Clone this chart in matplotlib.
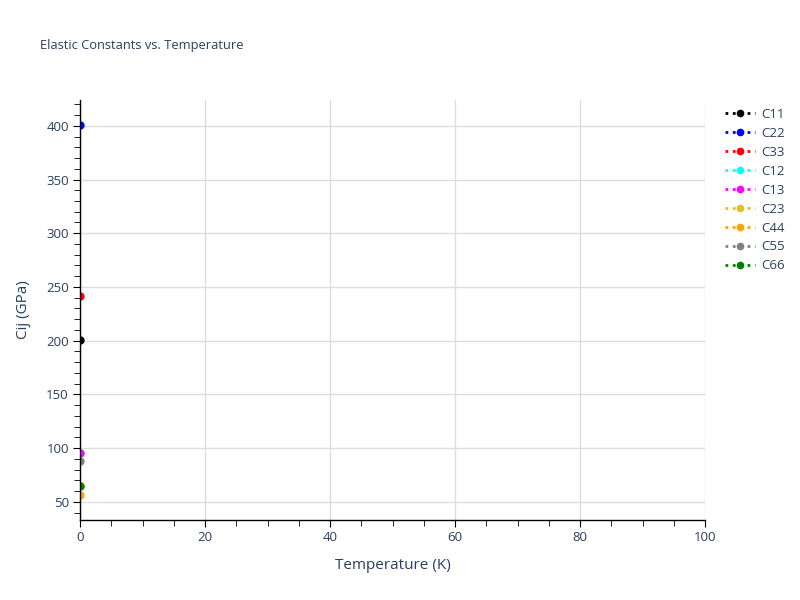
import matplotlib.pyplot as plt
from matplotlib.ticker import MultipleLocator

plt.rcParams['font.family'] = ['Open Sans', 'DejaVu Sans']

# Data
temperature = [0]
names = ["C11", "C22", "C33", "C12", "C13", "C23", "C44", "C55", "C66"]
values = [201, 401, 242, 95, 95, 65, 56, 88, 65]
colors = ["black", "blue", "red", "cyan", "magenta", "#e5bf2b",
          "orange", "gray", "green"]

text_color = "#2a3f5f"

fig = plt.figure(figsize=(8, 6), dpi=100)
ax = fig.add_axes([0.1, 0.1333, 0.78125, 0.7])

for name, val, col in zip(names, values, colors):
    ax.plot(temperature, [val], linestyle=":", color=col, marker="o",
            markersize=5, linewidth=2, label=name)

ax.set_xlim(0, 100)
ax.set_ylim(33, 424)
ax.xaxis.set_major_locator(MultipleLocator(20))
ax.xaxis.set_minor_locator(MultipleLocator(5))
ax.yaxis.set_major_locator(MultipleLocator(50))
ax.yaxis.set_minor_locator(MultipleLocator(10))

ax.grid(True, which="major", color="#dddddd", linewidth=1)
ax.set_axisbelow(True)
for s in ["top", "right"]:
    ax.spines[s].set_visible(False)
for s in ["left", "bottom"]:
    ax.spines[s].set_color("black")
    ax.spines[s].set_linewidth(1)

ax.tick_params(which="major", length=5, color="black", labelsize=9.5,
               labelcolor=text_color, pad=3)
ax.tick_params(which="minor", length=4, color="black")

ax.set_xlabel("Temperature (K)", fontsize=11, color=text_color, labelpad=10)
ax.set_ylabel("Cij (GPa)", fontsize=11, color=text_color, labelpad=11)
fig.text(0.05, 0.925, "Elastic Constants vs. Temperature", fontsize=9.3,
         color=text_color, va="center")

fig.legend(loc="upper left", bbox_to_anchor=(0.892, 0.84), frameon=False,
           fontsize=9.5, labelcolor=text_color, handlelength=2.2,
           labelspacing=0.45, handletextpad=0.5, markerscale=0.9)

fig.savefig("out.png", dpi=100)
